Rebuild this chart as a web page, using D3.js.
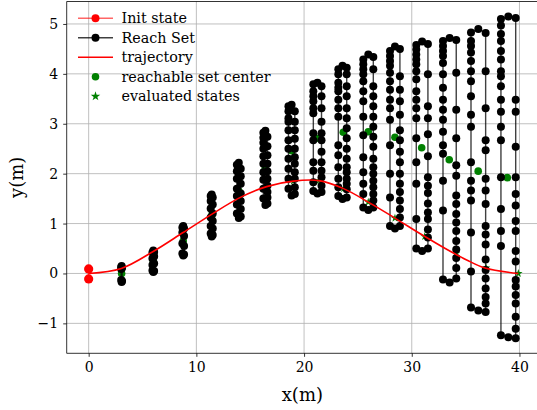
<!DOCTYPE html>
<html>
<head>
<meta charset="utf-8">
<script src="https://cdn.jsdelivr.net/npm/d3@7"></script>
<style>
  body { margin: 0; background: #fff; }
  svg text { font-family: "DejaVu Serif", "Liberation Serif", serif !important; fill: #000; }
  .grid line { stroke: #b0b0b0; stroke-width: 0.8; }
  .axis path, .axis line { stroke: #000; stroke-width: 0.8; }
</style>
</head>
<body>
<svg id="chart" width="537" height="410"></svg>
<script>
// ---- data ----
const xTicks = [0, 10, 20, 30, 40];
const yTicks = [-1, 0, 1, 2, 3, 4, 5];

const initX = [0, 0];
const initY = [0.09, -0.11];

const trajX = [0, 3.03, 5.99, 8.77, 11.45, 14.04, 16.52, 19.0, 21.39, 23.67, 25.96, 28.44, 30.83, 33.11, 35.1, 36.8, 39.9];
const trajY = [0, 0.1, 0.44, 0.82, 1.19, 1.52, 1.74, 1.85, 1.86, 1.7, 1.43, 1.11, 0.79, 0.5, 0.27, 0.11, 0.0];

// evaluated states (green stars)
const evalX = [3.03, 5.99, 8.77, 11.45, 14.04, 16.52, 19.0, 21.39, 23.67, 25.96, 28.44, 31.2, 34.1, 36.9, 39.9];
const evalY = [0.1, 0.44, 0.82, 1.19, 1.52, 1.74, 1.85, 1.86, 1.7, 1.43, 1.11, 0.74, 0.4, 0.11, 0.0];

// reach sets: left / right column x, top / bottom hook y, vertex y along each column
const setXL = [3.02, 5.92, 8.7, 11.33, 13.76, 16.22, 18.55, 20.86, 23.18, 25.5, 27.98, 30.42, 32.9, 35.5, 38.28];
const setXR = [3.1, 6.08, 8.86, 11.52, 14.12, 16.6, 19.14, 21.62, 23.96, 26.43, 28.9, 31.5, 34.13, 36.86, 39.65];
const setTop = [0.15, 0.46, 0.95, 1.58, 2.22, 2.86, 3.38, 3.82, 4.16, 4.39, 4.55, 4.65, 4.72, 4.9, 5.15];
const setBottom = [-0.17, 0.03, 0.36, 0.74, 1.11, 1.37, 1.56, 1.6, 1.49, 1.27, 0.9, 0.45, -0.18, -0.74, -1.28];
const setLeftY = [
  [0.13, 0.09, -0.13],
  [0.42, 0.3, 0.17, 0.06],
  [0.92, 0.82, 0.6, 0.4],
  [1.55, 1.45, 1.3, 1.12, 0.95, 0.8],
  [2.18, 2.05, 1.9, 1.7, 1.55, 1.38, 1.2],
  [2.82, 2.72, 2.62, 2.5, 2.35, 2.2, 2.03, 1.88, 1.7, 1.5],
  [3.35, 3.25, 3.11, 3.04, 2.87, 2.67, 2.5, 2.3, 2.1, 1.9, 1.7],
  [3.79, 3.65, 3.55, 3.45, 3.31, 3.21, 2.81, 2.67, 2.23, 2.06, 1.83, 1.65],
  [4.09, 3.99, 3.82, 3.72, 3.65, 3.48, 3.31, 3.14, 2.57, 2.37, 2.13, 1.9, 1.73, 1.55],
  [4.29, 4.19, 4.09, 3.99, 3.85, 3.65, 3.45, 3.14, 2.77, 2.33, 2.03, 1.8, 1.59, 1.32],
  [4.46, 4.36, 4.26, 4.16, 4.02, 3.85, 3.68, 3.48, 3.31, 3.08, 2.57, 2.0, 1.52, 0.95],
  [4.58, 4.49, 4.39, 4.29, 4.19, 4.05, 3.89, 3.65, 3.48, 3.31, 3.11, 2.71, 2.23, 1.8, 1.09, 0.5],
  [4.66, 4.56, 4.46, 4.36, 4.22, 3.99, 3.72, 3.48, 3.28, 3.08, 2.84, 2.57, 2.4, 1.86, 1.26, -0.12],
  [4.83, 4.66, 4.56, 4.43, 4.26, 4.05, 3.85, 3.55, 3.18, 2.94, 2.23, 1.86, 1.66, 1.46, 0.82, 0.04, -0.68],
  [5.1, 4.97, 4.8, 4.66, 4.46, 4.29, 4.05, 3.95, 3.75, 3.48, 3.24, 2.94, 2.67, 1.93, 1.29, 0.85, 0.55, -1.24]
];
const setRightY = [
  [-0.15, 0.11],
  [0.05, 0.2, 0.34, 0.43],
  [0.38, 0.55, 0.75, 0.9],
  [0.77, 0.9, 1.05, 1.2, 1.38, 1.52],
  [1.14, 1.29, 1.45, 1.6, 1.8, 1.95, 2.1],
  [1.4, 1.52, 1.63, 1.76, 1.9, 2.05, 2.2, 2.37, 2.55, 2.74],
  [1.59, 1.73, 1.9, 2.03, 2.2, 2.33, 2.5, 2.7, 2.87, 3.04, 3.25],
  [1.63, 1.76, 1.93, 2.06, 2.23, 2.44, 2.67, 2.81, 3.04, 3.31, 3.55, 3.75],
  [1.52, 1.69, 1.8, 1.9, 2.03, 2.13, 2.3, 2.5, 2.71, 2.91, 3.11, 3.31, 3.55, 3.75, 3.99, 4.12],
  [1.32, 1.46, 1.59, 1.73, 1.86, 2.0, 2.13, 2.3, 2.54, 2.74, 2.94, 3.14, 3.35, 3.55, 3.75, 4.09, 4.34],
  [0.95, 1.12, 1.29, 1.46, 1.63, 1.8, 2.0, 2.23, 2.44, 2.67, 2.87, 3.18, 3.45, 3.68, 3.95, 4.5],
  [0.5, 0.72, 0.88, 1.09, 1.22, 1.4, 1.61, 1.76, 1.93, 2.35, 2.79, 3.11, 3.35, 3.99, 4.6],
  [-0.1, 0.11, 0.31, 0.48, 0.65, 0.85, 1.02, 1.19, 1.39, 1.56, 1.96, 2.17, 2.71, 3.28, 4.02, 4.68],
  [-0.77, -0.6, -0.47, -0.3, -0.1, 0.07, 0.28, 0.58, 0.78, 0.95, 1.39, 1.66, 1.9, 2.47, 2.67, 3.31, 4.05, 4.82],
  [-1.3, -1.11, -0.87, -0.6, -0.43, -0.26, -0.13, 0.24, 0.45, 0.85, 1.05, 1.36, 1.59, 1.93, 2.54, 3.24, 3.48, 5.12]
];

const centerX = [3.06, 6.0, 8.78, 11.42, 13.94, 16.4, 18.85, 21.32, 23.64, 25.96, 28.44, 30.92, 33.48, 36.17, 38.87];
const centerY = [0.0, 0.25, 0.65, 1.15, 1.65, 2.1, 2.46, 2.71, 2.83, 2.84, 2.73, 2.52, 2.28, 2.05, 1.92];

const legendLabels = ['Init state', 'Reach Set', 'trajectory', 'reachable set center', 'evaluated states'];

// ---- layout ----
const FONT = '"DejaVu Serif", "Liberation Serif", serif';
const svg = d3.select('#chart');
const plot = { left: 66.7, right: 541, top: 1.5, bottom: 353.3 };

const x = d3.scaleLinear().domain([-2.04, 42]).range([plot.left, plot.right]);
const y = d3.scaleLinear().domain([-1.6, 5.45]).range([plot.bottom, plot.top]);

const red = '#ff0000', green = '#008000';

// grid
const grid = svg.append('g').attr('class', 'grid');
grid.selectAll('line.v').data(xTicks).enter().append('line')
  .attr('x1', d => x(d)).attr('x2', d => x(d))
  .attr('y1', plot.top).attr('y2', plot.bottom);
grid.selectAll('line.h').data(yTicks).enter().append('line')
  .attr('x1', plot.left).attr('x2', plot.right)
  .attr('y1', d => y(d)).attr('y2', d => y(d));

// axes
svg.append('g')
  .attr('class', 'axis x')
  .attr('transform', 'translate(0,' + plot.bottom + ')')
  .call(d3.axisBottom(x).tickValues(xTicks).tickSize(3.5).tickPadding(5).tickSizeOuter(0))
  .attr('font-family', FONT)
  .call(g => g.select('.domain').remove())
  .selectAll('text').attr('font-size', 14).attr('font-family', FONT);

svg.append('g')
  .attr('class', 'axis y')
  .attr('transform', 'translate(' + plot.left + ',0)')
  .call(d3.axisLeft(y).tickValues(yTicks).tickSize(3.5).tickPadding(5)
    .tickFormat(d => d < 0 ? '\u2212' + Math.abs(d) : d))
  .attr('font-family', FONT)
  .call(g => g.select('.domain').remove())
  .selectAll('text').attr('font-size', 14).attr('font-family', FONT);

const line = d3.line().x(d => x(d[0])).y(d => y(d[1]));
const star = d3.symbol().type(d3.symbolStar).size(22);

// evaluated states (stars, mostly hidden below the sets)
svg.append('g').selectAll('path')
  .data(evalX).enter().append('path')
  .attr('d', star)
  .attr('transform', (d, i) => 'translate(' + x(d) + ',' + y(evalY[i]) + ')')
  .attr('fill', green);

// reachable set centers (under the sets)
svg.append('g').selectAll('circle').data(centerX).enter().append('circle')
  .attr('cx', d => x(d)).attr('cy', (d, i) => y(centerY[i])).attr('r', 3.8).attr('fill', green);

// init state
const initPts = initX.map((v, i) => [v, initY[i]]);
svg.append('path').attr('d', line(initPts))
  .attr('fill', 'none').attr('stroke', red).attr('stroke-opacity', 0.6).attr('stroke-width', 1.5);
svg.append('g').selectAll('circle').data(initPts).enter().append('circle')
  .attr('cx', d => x(d[0])).attr('cy', d => y(d[1])).attr('r', 4.6).attr('fill', red);

// reach sets
const sets = svg.append('g').attr('class', 'reach');
setXL.forEach((xl, k) => {
  const xr = setXR[k], xm = (xl + xr) / 2;
  const pts = [[xm, setTop[k]]]
    .concat(setLeftY[k].map(v => [xl, v]))
    .concat([[xm, setBottom[k]]])
    .concat(setRightY[k].map(v => [xr, v]));
  const g = sets.append('g');
  g.append('path').attr('d', line(pts.concat([pts[0]])))
    .attr('fill', 'none').attr('stroke', '#000').attr('stroke-opacity', 0.75).attr('stroke-width', 1.4);
  g.selectAll('circle').data(pts).enter().append('circle')
    .attr('cx', d => x(d[0])).attr('cy', d => y(d[1])).attr('r', 4).attr('fill', '#000');
});

// trajectory
svg.append('path')
  .attr('d', d3.line().curve(d3.curveCatmullRom).x((d, i) => x(trajX[i])).y((d, i) => y(trajY[i]))(trajX))
  .attr('fill', 'none').attr('stroke', red).attr('stroke-width', 1.6);

// spines
svg.append('path')
  .attr('d', 'M' + plot.right + ',' + plot.top + 'H' + plot.left + 'V' + plot.bottom + 'H' + plot.right)
  .attr('fill', 'none').attr('stroke', '#000').attr('stroke-width', 0.8);

// axis labels
svg.append('text').attr('x', (plot.left + 538) / 2).attr('y', 401)
  .attr('text-anchor', 'middle').attr('font-size', 18).attr('font-family', FONT).text('x(m)');
svg.append('text').attr('transform', 'translate(23,' + (plot.top + plot.bottom) / 2 + ') rotate(-90)')
  .attr('text-anchor', 'middle').attr('font-size', 18).attr('font-family', FONT).text('y(m)');

// legend
const legend = svg.append('g').attr('transform', 'translate(78,18.3)');
legendLabels.forEach((label, i) => {
  const row = legend.append('g').attr('transform', 'translate(0,' + (i * 19.5) + ')');
  if (i === 0) {
    row.append('line').attr('x1', 0).attr('x2', 35).attr('stroke', red).attr('stroke-opacity', 0.6).attr('stroke-width', 1.5);
    row.append('circle').attr('cx', 17.5).attr('r', 4).attr('fill', red);
  } else if (i === 1) {
    row.append('line').attr('x1', 0).attr('x2', 35).attr('stroke', '#000').attr('stroke-opacity', 0.75).attr('stroke-width', 1.4);
    row.append('circle').attr('cx', 17.5).attr('r', 4).attr('fill', '#000');
  } else if (i === 2) {
    row.append('line').attr('x1', 0).attr('x2', 35).attr('stroke', red).attr('stroke-width', 1.6);
  } else if (i === 3) {
    row.append('circle').attr('cx', 17.5).attr('r', 3.8).attr('fill', green);
  } else {
    row.append('path').attr('d', d3.symbol().type(d3.symbolStar).size(28)).attr('transform', 'translate(17.5,0)').attr('fill', green);
  }
  row.append('text').attr('x', 43.5).attr('y', 5).attr('font-size', 14.3).attr('font-family', FONT).text(label);
});
</script>
</body>
</html>
